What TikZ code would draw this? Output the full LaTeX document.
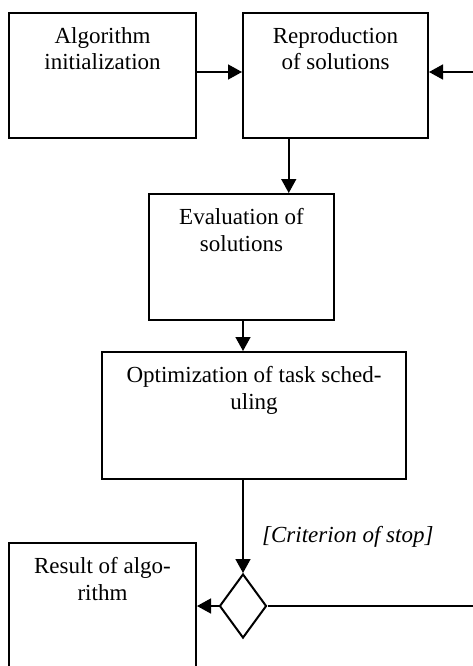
\documentclass[tikz,border=0pt]{standalone}
\usepackage{fontspec}
\setmainfont{Liberation Serif}
\usetikzlibrary{shapes.geometric,arrows.meta,calc}
\begin{document}
\begin{tikzpicture}[x=1pt,y=-1pt,
  box/.style={draw,line width=2pt,rectangle,inner sep=0pt},
  txt/.style={font=\fontsize{23}{26.5}\selectfont,align=center,inner sep=0pt,anchor=north},
  dia/.style={draw,line width=2pt,diamond,inner sep=0pt,minimum width=47pt,minimum height=64pt,aspect=0.73},
  arr/.style={line width=1.5pt,-{Triangle[length=14pt,width=15pt]}},
  ln/.style={line width=1.5pt}]
\useasboundingbox (0,0) rectangle (473,666);
\clip (0,0) rectangle (473,666);
% boxes
\node[box,minimum width=187pt,minimum height=125pt] (b1) at (102.5,75.5) {};
\node[box,minimum width=185pt,minimum height=125pt] (b2) at (335.5,75.5) {};
\node[box,minimum width=185pt,minimum height=126pt] (b3) at (241.5,257) {};
\node[box,minimum width=304pt,minimum height=127pt] (b4) at (254,415.5) {};
\node[box,minimum width=187pt,minimum height=150pt] (b5) at (102.5,618) {};
\node[dia] (d) at (243,606) {};
% texts
\node[txt] (t1) at ([yshift=-15.3pt]b1.north) {Algorithm\\initialization};
\node[txt] (t2) at ([yshift=-15.3pt]b2.north) {Reproduction\\of solutions};
\node[txt] (t3) at ([yshift=-15.3pt]b3.north) {Evaluation of\\solutions};
\node[txt] (t4) at ([yshift=-15.3pt]b4.north) {Optimization of task sched-\\uling};
\node[txt] (t5) at ([yshift=-15.3pt]b5.north) {Result of algo-\\rithm};
\node[font=\fontsize{23}{26.5}\selectfont\itshape,inner sep=0pt,anchor=base west] (crit) at (262,542) {[Criterion of stop]};
% connectors
\coordinate (loopA) at (500,606);
\coordinate (loopB) at (500,72);
\draw[arr] ([yshift=3.5pt]b1.east) -- ([yshift=3.5pt]b2.west);
\coordinate (p2) at ($(b2.south west)!0.25!(b2.south east)$);
\draw[arr] (p2) -- (p2 |- b3.north);
\draw[arr] (b3.south -| d) -- (b4.north -| d);
\draw[arr] (b4.south -| d) -- (d.north);
\draw[arr] (d.west) -- (b5.east |- d);
\draw[ln] (d.east) -- (loopA) -- (loopB);
\draw[arr] (loopB) -- ([yshift=3.5pt]b2.east);
\end{tikzpicture}
\end{document}
